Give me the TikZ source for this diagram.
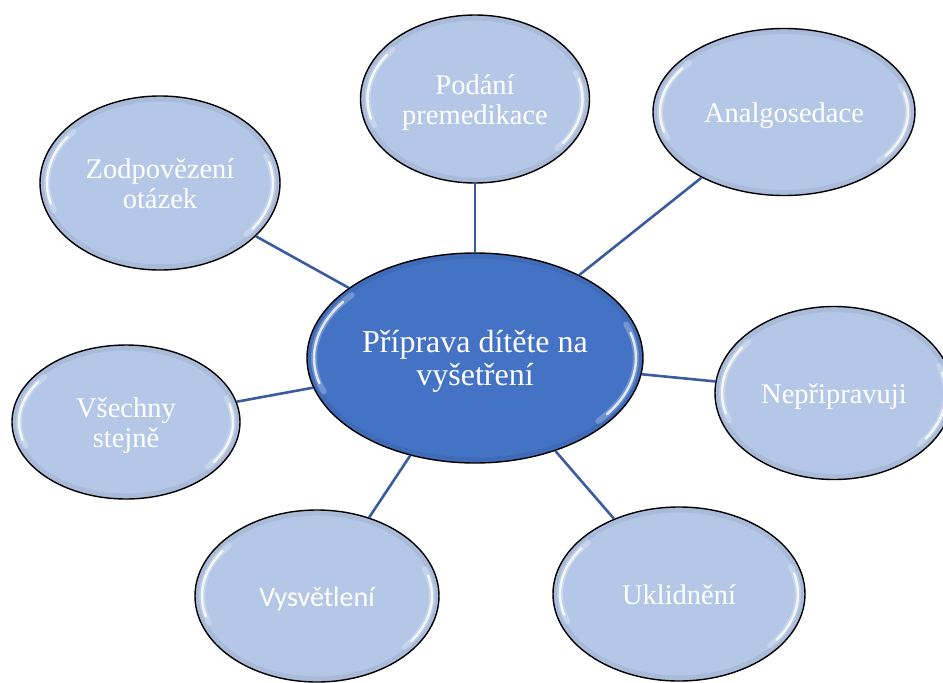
\documentclass[tikz,border=0pt]{standalone}
\usepackage{fontspec}
\setmainfont{Liberation Serif}
\newfontfamily\calfont{Carlito}
\definecolor{outerfill}{RGB}{180,199,231}
\definecolor{innerfill}{RGB}{68,114,196}
\definecolor{linkcol}{RGB}{58,92,158}
\usetikzlibrary{shapes.geometric,calc}
\tikzset{
  bubble/.style={ellipse, draw=black, line width=1.4pt, fill=outerfill,
    text=white, inner sep=0pt, align=center,
    font=\fontsize{28.5}{30}\selectfont},
  hub/.style={bubble, fill=innerfill, font=\fontsize{32}{33}\selectfont},
  link/.style={draw=linkcol, line width=2.6pt},
  shinesoft/.style={white, line width=6pt, opacity=0.25, line cap=round},
  shine/.style={white, line width=2.4pt, opacity=0.8, line cap=round},
  rim/.style={black, line width=5pt, opacity=0.06},
}
\newcommand{\lbl}[1]{\raisebox{-4.5pt}[\height][\depth]{\begin{tabular}{@{}c@{}}#1\end{tabular}}}
\newcommand{\glint}[3]{%
  \draw[rim] (#1.center) ellipse [x radius=#2-3, y radius=#3-3];
  \draw[shinesoft] ($(#1.center)+(140:#2-7 and #3-7)$) arc[start angle=140,end angle=200,x radius=#2-7,y radius=#3-7];
  \draw[shinesoft] ($(#1.center)+(-40:#2-7 and #3-7)$) arc[start angle=-40,end angle=20,x radius=#2-7,y radius=#3-7];
  \draw[shine] ($(#1.center)+(145:#2-7 and #3-7)$) arc[start angle=145,end angle=195,x radius=#2-7,y radius=#3-7];
  \draw[shine] ($(#1.center)+(-35:#2-7 and #3-7)$) arc[start angle=-35,end angle=15,x radius=#2-7,y radius=#3-7];
}
\begin{document}
\begin{tikzpicture}[x=1pt,y=1pt]
\useasboundingbox (0,0) rectangle (943,-683);
\begin{scope}
\clip (0,0) rectangle (943,-683);
% nodes
\node[hub, minimum width=336pt, minimum height=210pt] (c) at (475,-358) {\lbl{Příprava dítěte na\\vyšetření}};
\node[bubble, minimum width=229pt, minimum height=168pt] (pod) at (475,-99) {\lbl{Podání\\premedikace}};
\node[bubble, minimum width=262pt, minimum height=167pt] (ana) at (784,-112) {\lbl{Analgosedace}};
\node[bubble, minimum width=240pt, minimum height=174pt] (zod) at (160,-183) {\lbl{Zodpovězení\\otázek}};
\node[bubble, minimum width=228pt, minimum height=154pt] (vse) at (126,-422) {\lbl{Všechny\\stejně}};
\node[bubble, minimum width=238pt, minimum height=173pt] (nep) at (834,-393) {\lbl{Nepřipravuji}};
\node[bubble, minimum width=244pt, minimum height=172pt, font=\calfont\fontsize{28}{30}\selectfont] (vys) at (317,-596) {\lbl{Vysvětlení}};
\node[bubble, minimum width=252pt, minimum height=174pt] (ukl) at (679,-594) {\lbl{Uklidnění}};
% connectors
\draw[link] (c) -- (pod);
\draw[link] (c) -- (ana);
\draw[link] (c) -- (zod);
\draw[link] (c) -- (vse);
\draw[link] (c) -- (nep);
\draw[link] (c) -- (vys);
\draw[link] (c) -- (ukl);
% highlights
\glint{c}{168}{105}
\glint{pod}{114.5}{84}
\glint{ana}{131}{83.5}
\glint{zod}{120}{87}
\glint{vse}{114}{77}
\glint{nep}{119}{86.5}
\glint{vys}{122}{86}
\glint{ukl}{126}{87}
\end{scope}
\end{tikzpicture}
\end{document}
